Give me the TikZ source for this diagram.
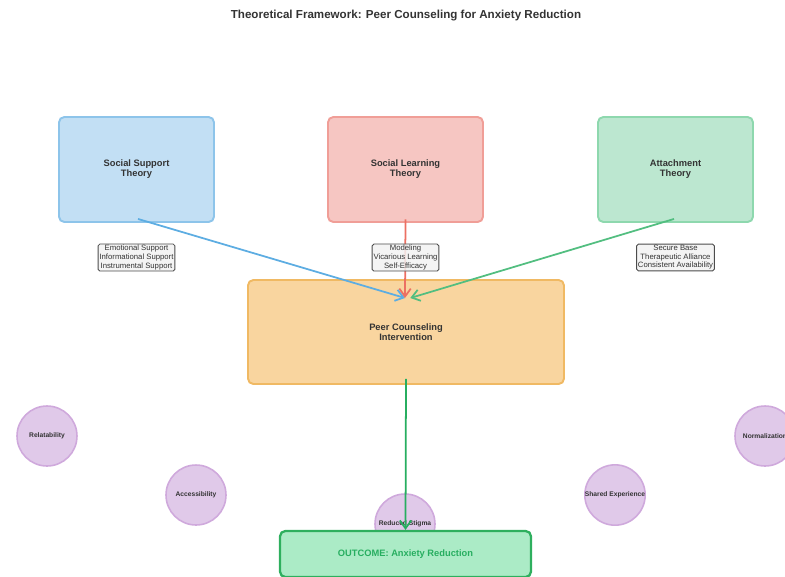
\documentclass[tikz,border=0pt]{standalone}
\usepackage{fontspec}
\setmainfont{Liberation Sans}
\usepackage{tikz}
\usetikzlibrary{arrows.meta,positioning}

\definecolor{txtgray}{HTML}{333333}
\definecolor{ssfill}{HTML}{C2DFF4}
\definecolor{ssline}{HTML}{8DC4EA}
\definecolor{slfill}{HTML}{F6C6C2}
\definecolor{slline}{HTML}{F09E97}
\definecolor{atfill}{HTML}{BCE7D0}
\definecolor{atline}{HTML}{8ED8AE}
\definecolor{pcfill}{HTML}{F9D59F}
\definecolor{pcline}{HTML}{F0B963}
\definecolor{mfill}{HTML}{E0C9E9}
\definecolor{mline}{HTML}{CFA9DC}
\definecolor{outfill}{HTML}{ABEBC6}
\definecolor{outline}{HTML}{2EAF5E}
\definecolor{arblue}{HTML}{5DADE2}
\definecolor{arred}{HTML}{EC7063}
\definecolor{argreen}{HTML}{52BE80}
\definecolor{ardark}{HTML}{27AE60}

\tikzset{
	theory/.style={draw, line width=1.1pt, rounded corners=3pt, minimum width=3.1cm, minimum height=2.1cm, align=center, text=txtgray, font=\fontsize{5.3}{5.7}\selectfont\bfseries},
	keys/.style={draw=black!70, fill=gray!10, fill opacity=0.85, text opacity=1, line width=0.5pt, rounded corners=1pt, inner sep=0.8pt, align=center, text=txtgray, font=\fontsize{4.4}{4.85}\selectfont},
	factor/.style={circle, draw=mline, fill=mfill, line width=0.9pt, minimum size=1.2cm, inner sep=0pt, text=txtgray, font=\fontsize{3.8}{4.2}\selectfont\bfseries},
	link/.style={line width=1pt, -{Straight Barb[length=4.5pt,width=6.5pt]}}
}

\begin{document}
\begin{tikzpicture}[x=0.02cm,y=-0.02cm]
	\useasboundingbox (0,0) rectangle (785,576);
	\node (title) at (406,16) {\fontsize{6.6}{7.5}\selectfont\bfseries\color{txtgray}Theoretical Framework: Peer Counseling for Anxiety Reduction};

	\node (ss) at (136.5,169.5) [theory, fill=ssfill, draw=ssline] {Social Support\\Theory};
	\node (sl) at (405.5,169.5) [theory, fill=slfill, draw=slline] {Social Learning\\Theory};
	\node (at) at (675.5,169.5) [theory, fill=atfill, draw=atline] {Attachment\\Theory};

	\node (pc) at (406,332) [theory, fill=pcfill, draw=pcline, minimum width=6.32cm, minimum height=2.08cm] {Peer Counseling\\Intervention};
	\coordinate (pcin) at (405,298);

	\node (f1) at (47,436) [factor] {Relatability};
	\node (f2) at (196,495) [factor] {Accessibility};
	\node (f3) at (405,524) [factor] {Reduced Stigma};
	\node (f4) at (615,495) [factor] {Shared Experience};
	\node (f5) at (765,436) [factor] {Normalization};

	\node (out) at (405.5,554) [draw=outline, fill=outfill, line width=1.3pt, rounded corners=3pt, minimum width=5.02cm, minimum height=0.92cm, text=ardark, font=\fontsize{5.3}{6}\selectfont\bfseries] {OUTCOME: Anxiety Reduction};

	\draw[link, arblue] ([shift={(1.5,-4)}]ss.south) -- (pcin);
	\draw[link, arred] ([yshift=2pt]sl.south) -- (pcin);
	\draw[link, argreen] ([shift={(-1.5,-4)}]at.south) -- ([xshift=3]pcin);
	\draw[link, ardark] ([yshift=3.5pt]pc.south) -- (out.north);

	\node (kss) at (136.5,257.5) [keys] {Emotional Support\\Informational Support\\Instrumental Support};
	\node (ksl) at (405.5,257.5) [keys] {Modeling\\Vicarious Learning\\Self-Efficacy};
	\node (kat) at (675.5,257.5) [keys] {Secure Base\\Therapeutic Alliance\\Consistent Availability};
\end{tikzpicture}
\end{document}
